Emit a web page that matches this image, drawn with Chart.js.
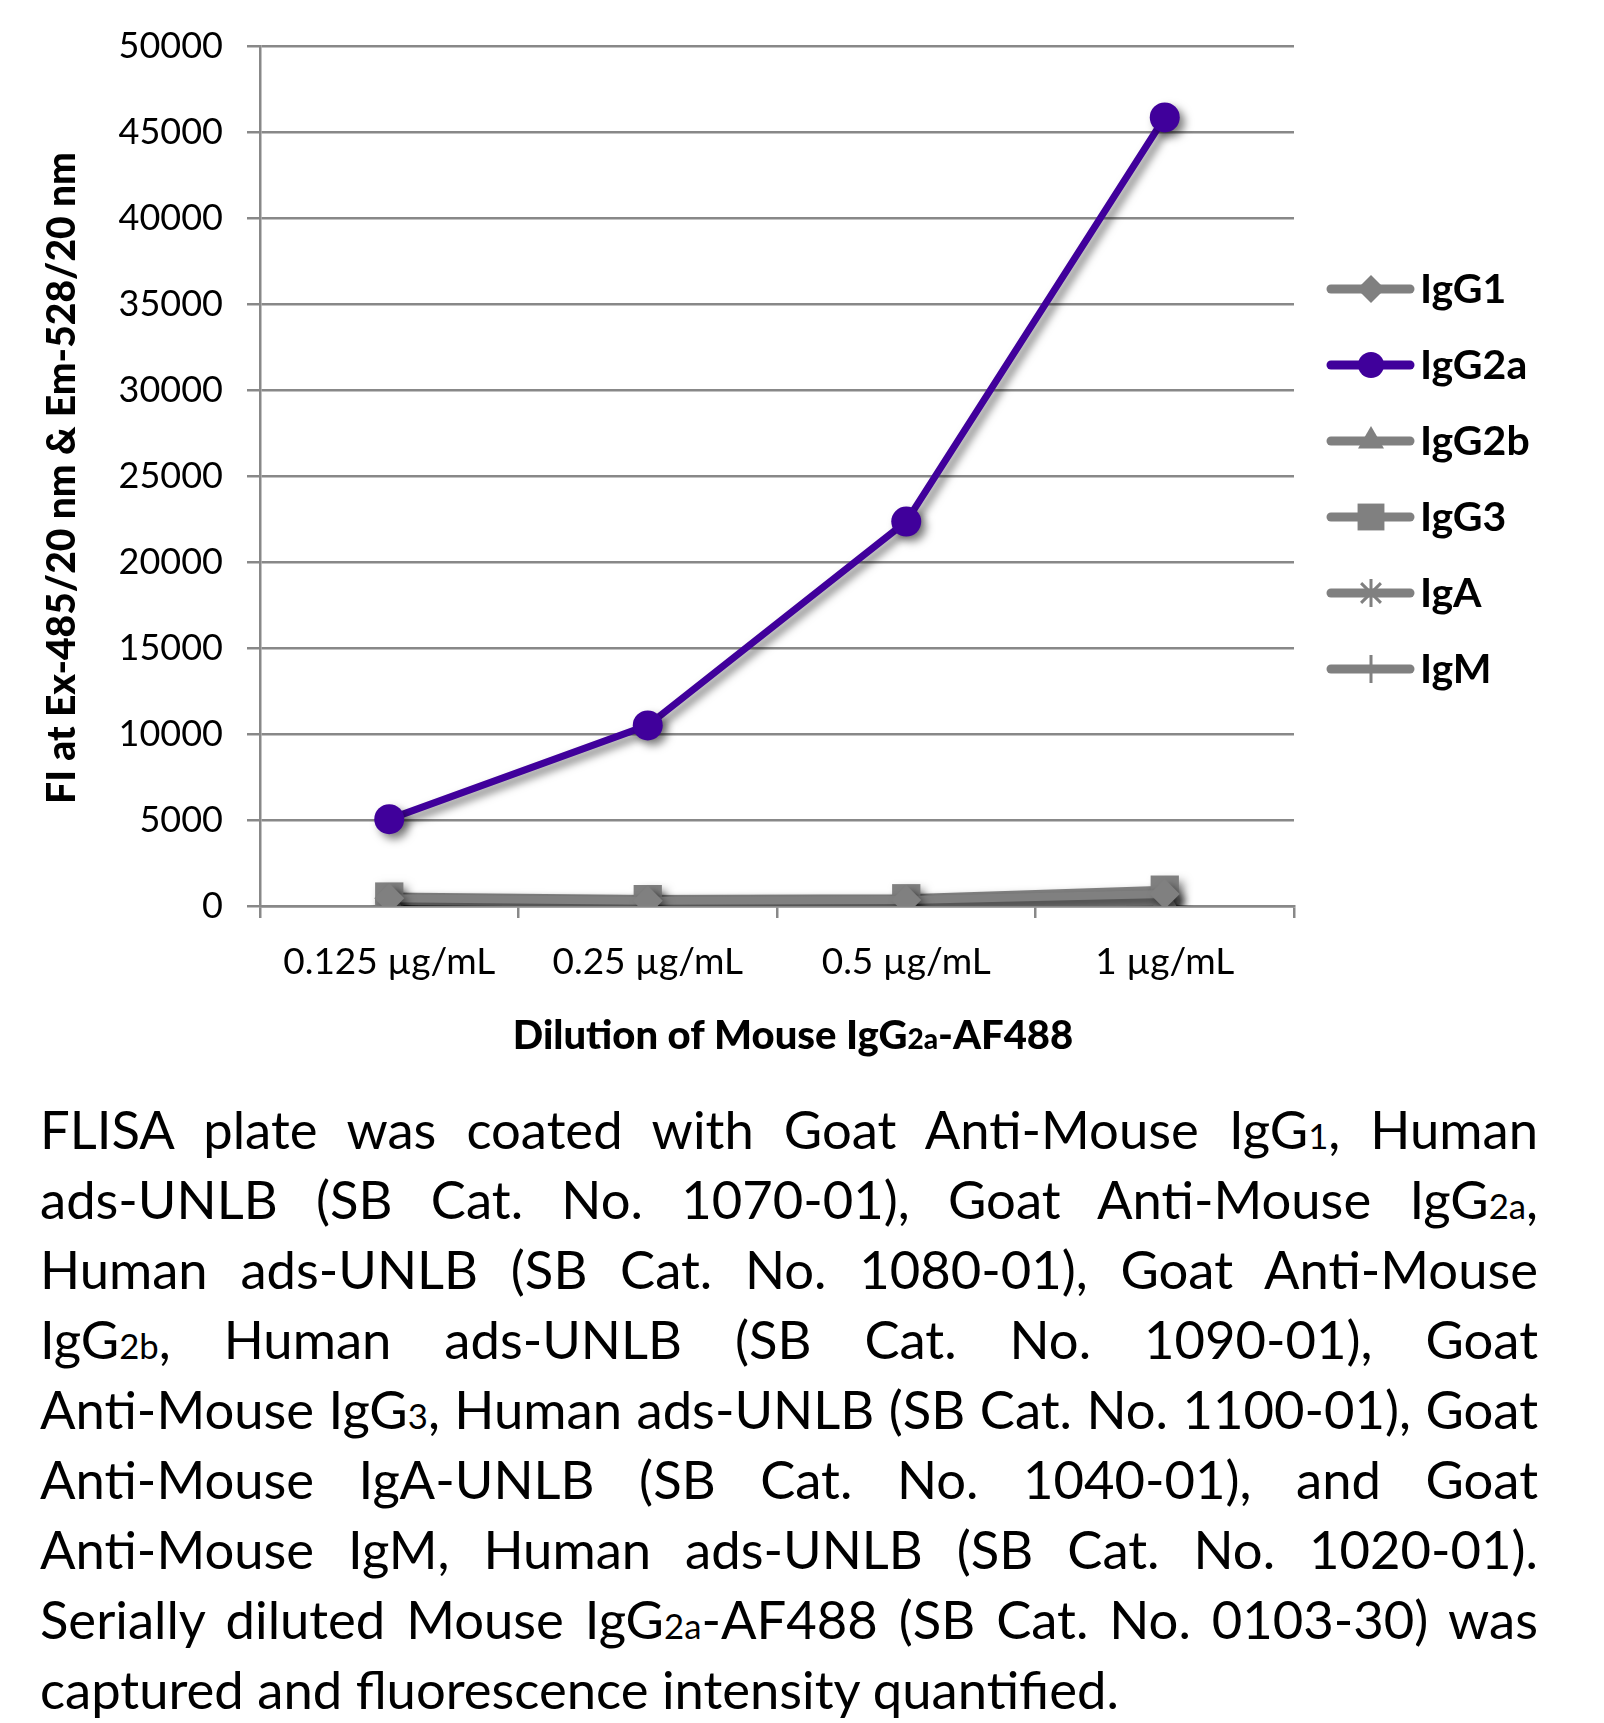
<!DOCTYPE html>
<html>
<head>
<meta charset="utf-8">
<script src="https://cdn.jsdelivr.net/npm/chart.js@4.4.0/dist/chart.umd.min.js"></script>
<style>
    body { margin: 0; background: #fff; width: 1604px; }
    #wrap { position: relative; width: 1604px; height: 1080px; }
    #caption { position: absolute; left: 40px; top: 1094px; width: 1498px; font-family: Lato, sans-serif; color: #000; font-size: 50px; }
    .ln { text-align: justify; text-align-last: justify; height: 70px; line-height: 70px; white-space: nowrap; }
    .ln.last { text-align-last: left; }
    .s { font-size: 0.66em; }
</style>
</head>
<body>
<div id="wrap"><canvas id="flisaChart"></canvas></div>
<div id="caption">
    <div class="ln">FLISA plate was coated with Goat Anti-Mouse IgG<span class="s">1</span>, Human</div>
    <div class="ln">ads-UNLB (SB Cat. No. 1070-01), Goat Anti-Mouse IgG<span class="s">2a</span>,</div>
    <div class="ln">Human ads-UNLB (SB Cat. No. 1080-01), Goat Anti-Mouse</div>
    <div class="ln">IgG<span class="s">2b</span>, Human ads-UNLB (SB Cat. No. 1090-01), Goat</div>
    <div class="ln">Anti-Mouse IgG<span class="s">3</span>, Human ads-UNLB (SB Cat. No. 1100-01), Goat</div>
    <div class="ln">Anti-Mouse IgA-UNLB (SB Cat. No. 1040-01), and Goat</div>
    <div class="ln">Anti-Mouse IgM, Human ads-UNLB (SB Cat. No. 1020-01).</div>
    <div class="ln">Serially diluted Mouse IgG<span class="s">2a</span>-AF488 (SB Cat. No. 0103-30) was</div>
    <div class="ln last">captured and fluorescence intensity quantified.</div>
</div>
<script>
const categories = ['0.125 µg/mL', '0.25 µg/mL', '0.5 µg/mL', '1 µg/mL'];
const seriesNames = ['IgG1', 'IgG2a', 'IgG2b', 'IgG3', 'IgA', 'IgM'];
const igg1 = [450, 300, 350, 700];
const igg2a = [5050, 10500, 22350, 45850];
const igg2b = [300, 150, 150, 250];
const igg3 = [550, 400, 450, 950];
const iga = [250, 200, 200, 400];
const igm = [350, 250, 300, 550];
const yMin = 0, yMax = 50000, yStep = 5000;

const GRAY = '#808080';
const PURPLE = '#40009b';
const FONT = 'Lato, sans-serif';

// scale the caption so the widest line fits the column
(function fitCaption() {
    const cap = document.getElementById('caption');
    let widest = 0;
    cap.querySelectorAll('.ln').forEach(ln => {
        const probe = document.createElement('span');
        probe.innerHTML = ln.innerHTML;
        probe.style.whiteSpace = 'nowrap';
        probe.style.position = 'absolute';
        probe.style.visibility = 'hidden';
        cap.appendChild(probe);
        widest = Math.max(widest, probe.offsetWidth);
        probe.remove();
    });
    cap.style.fontSize = (50 * 1490 / widest).toFixed(2) + 'px';
})();

const styles = [
    { pointStyle: 'rectRot', radius: 15, legendRadius: 14 },
    { pointStyle: 'circle', radius: 15, legendRadius: 13 },
    { pointStyle: 'triangle', radius: 16, legendRadius: 15 },
    { pointStyle: 'rect', radius: 20, legendRadius: 19 },
    { pointStyle: 'star', radius: 14, legendRadius: 14 },
    { pointStyle: 'cross', radius: 14, legendRadius: 14 }
];
const values = [igg1, igg2a, igg2b, igg3, iga, igm];

const datasets = seriesNames.map((name, i) => {
    const color = name === 'IgG2a' ? PURPLE : GRAY;
    const open = styles[i].pointStyle === 'star' || styles[i].pointStyle === 'cross';
    return {
        label: name,
        data: values[i],
        borderColor: color,
        backgroundColor: color,
        borderWidth: name === 'IgG2a' ? 7 : 8,
        pointStyle: styles[i].pointStyle,
        pointRadius: styles[i].radius,
        pointBackgroundColor: color,
        pointBorderColor: color,
        pointBorderWidth: open ? 3 : 0,
        tension: 0
    };
});

// Excel-like drop shadow under the series
const shadowPlugin = {
    id: 'shadow',
    beforeDatasetsDraw(chart) {
        const ctx = chart.ctx;
        ctx.save();
        ctx.shadowColor = 'rgba(0,0,0,0.5)';
        ctx.shadowBlur = 9;
        ctx.shadowOffsetX = 5;
        ctx.shadowOffsetY = 5;
    },
    afterDatasetsDraw(chart) {
        chart.ctx.restore();
    }
};

// legend with line + marker, and the two axis titles
const decorPlugin = {
    id: 'decor',
    afterDraw(chart) {
        const ctx = chart.ctx;
        const area = chart.chartArea;
        ctx.save();

        chart.data.datasets.forEach((ds, i) => {
            const y = 289 + i * 76;
            ctx.strokeStyle = ds.borderColor;
            ctx.lineWidth = 9;
            ctx.lineCap = 'round';
            ctx.beginPath();
            ctx.moveTo(1331, y);
            ctx.lineTo(1410, y);
            ctx.stroke();
            ctx.lineCap = 'butt';
            ctx.fillStyle = ds.borderColor;
            ctx.lineWidth = 3;
            Chart.helpers.drawPoint(ctx, {
                pointStyle: ds.pointStyle,
                radius: styles[i].legendRadius,
                rotation: 0,
                borderWidth: ds.pointBorderWidth
            }, 1371, y);
            ctx.fillStyle = '#000';
            ctx.font = 'bold 41px ' + FONT;
            ctx.textAlign = 'left';
            ctx.textBaseline = 'middle';
            ctx.fillText(ds.label, 1420, y + 1);
        });

        // y axis title
        ctx.save();
        ctx.translate(62, (area.top + area.bottom) / 2 + 2);
        ctx.rotate(-Math.PI / 2);
        ctx.font = '900 39px ' + FONT;
        ctx.fillStyle = '#000';
        ctx.textAlign = 'center';
        ctx.textBaseline = 'middle';
        ctx.fillText('FI at Ex-485/20 nm & Em-528/20 nm', 0, 0);
        ctx.restore();

        // x axis title with small "2a"
        const parts = [
            { t: 'Dilution of Mouse IgG', f: '900 40px ' + FONT },
            { t: '2a', f: '900 28px ' + FONT },
            { t: '-AF488', f: '900 40px ' + FONT }
        ];
        let total = 0;
        parts.forEach(p => { ctx.font = p.f; p.w = ctx.measureText(p.t).width; total += p.w; });
        let x = (area.left + area.right) / 2 + 16 - total / 2;
        ctx.fillStyle = '#000';
        ctx.textAlign = 'left';
        ctx.textBaseline = 'alphabetic';
        parts.forEach(p => {
            ctx.font = p.f;
            ctx.fillText(p.t, x, 1049);
            x += p.w;
        });
        ctx.restore();
    }
};

const ctx = document.getElementById('flisaChart').getContext('2d');
new Chart(ctx, {
    type: 'line',
    data: {
        labels: categories,
        datasets: datasets
    },
    options: {
        responsive: true,
        maintainAspectRatio: false,
        devicePixelRatio: 1,
        animation: false,
        layout: {
            padding: { left: 30, right: 310, top: 46, bottom: 0 }
        },
        plugins: {
            legend: { display: false },
            tooltip: { enabled: false }
        },
        scales: {
            x: {
                offset: true,
                grid: {
                    offset: true,
                    drawOnChartArea: false,
                    drawTicks: true,
                    tickLength: 12,
                    color: '#888',
                    lineWidth: 2.5
                },
                border: { color: '#888', width: 2.5 },
                ticks: {
                    color: '#000',
                    padding: 22,
                    maxRotation: 0,
                    font: { family: FONT, size: 37 }
                },
                afterFit: s => { s.height = 174; }
            },
            y: {
                min: yMin,
                max: yMax,
                grid: {
                    color: '#888',
                    lineWidth: 2.5,
                    tickLength: 13
                },
                border: { color: '#888', width: 2.5 },
                ticks: {
                    stepSize: yStep,
                    color: '#000',
                    padding: 24,
                    font: { family: FONT, size: 36 },
                    callback: v => String(v)
                },
                afterFit: s => { s.width = 230; }
            }
        }
    },
    plugins: [shadowPlugin, decorPlugin]
});
</script>
</body>
</html>
